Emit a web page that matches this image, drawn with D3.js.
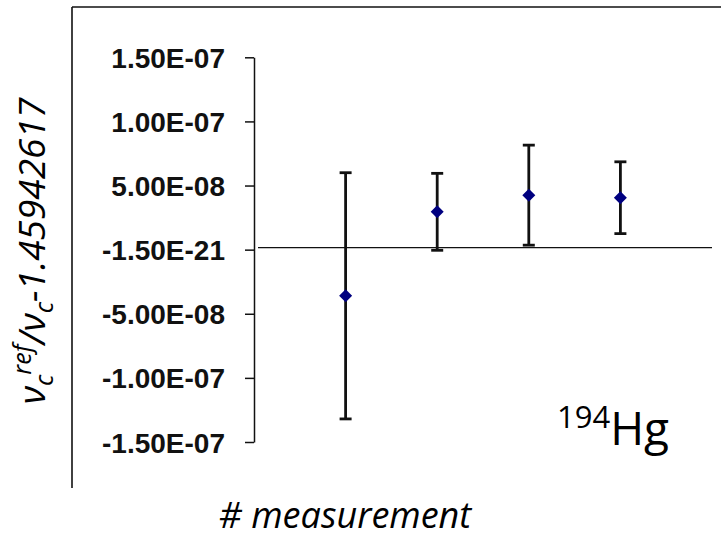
<!DOCTYPE html>
<html>
<head>
<meta charset="utf-8">
<script src="https://cdn.jsdelivr.net/npm/d3@7"></script>
<style>
  html, body { margin: 0; padding: 0; background: #fff; }
  svg { display: block; }
</style>
</head>
<body>
<script>
// Measurement index, frequency-ratio deviation and its 1-sigma uncertainty
const measurements = [1, 2, 3, 4];
const deviations = [-3.6e-8, 2.95e-8, 4.25e-8, 4.05e-8];
const uncertainties = [9.6e-8, 3.0e-8, 3.9e-8, 2.8e-8];
const tickValues = [1.5e-7, 1.0e-7, 5.0e-8, -1.5e-21, -5.0e-8, -1.0e-7, -1.5e-7];
const tickLabels = ["1.50E-07", "1.00E-07", "5.00E-08", "-1.50E-21", "-5.00E-08", "-1.00E-07", "-1.50E-07"];

const width = 721, height = 540;
const svg = d3.select("body").append("svg")
  .attr("width", width).attr("height", height);

const x = d3.scaleLinear().domain([0, 5]).range([254, 712]);
const y = d3.scaleLinear().domain([-1.5e-7, 1.5e-7]).range([442, 57.3]);

// outer frame (top and left edges)
svg.append("line").attr("x1", 72).attr("x2", width).attr("y1", 7).attr("y2", 7)
  .attr("stroke", "#111").attr("stroke-width", 1.6);
svg.append("line").attr("x1", 72).attr("x2", 72).attr("y1", 7).attr("y2", 488)
  .attr("stroke", "#111").attr("stroke-width", 1.6);

// y axis
const yAxis = d3.axisLeft(y)
  .tickValues(tickValues)
  .tickFormat((d, i) => tickLabels[i])
  .tickSize(9).tickSizeOuter(0).tickPadding(20);
const gy = svg.append("g").attr("transform", `translate(${x(0)},0)`).call(yAxis);
gy.select(".domain").attr("stroke", "#111").attr("stroke-width", 1.5);
gy.selectAll(".tick line").attr("stroke", "#111").attr("stroke-width", 1.5);
gy.selectAll(".tick text")
  .attr("fill", "#111")
  .style("font-family", "'Liberation Sans', Arial, sans-serif")
  .style("font-weight", "bold")
  .style("font-size", "28px")
  .attr("dy", "0.36em");

// zero line
svg.append("line")
  .attr("x1", x(0) + 4).attr("x2", x(5))
  .attr("y1", y(0) - 2).attr("y2", y(0) - 2)
  .attr("stroke", "#111").attr("stroke-width", 1.4);

const data = measurements.map((m, i) => ({ m, v: deviations[i], e: uncertainties[i] }));

// error bars
const bars = svg.append("g").attr("stroke", "#111").attr("stroke-width", 2.8);
bars.selectAll("line.stem").data(data).join("line").attr("class", "stem")
  .attr("x1", d => x(d.m)).attr("x2", d => x(d.m))
  .attr("y1", d => y(d.v + d.e)).attr("y2", d => y(d.v - d.e));
bars.selectAll("line.capt").data(data).join("line").attr("class", "capt")
  .attr("x1", d => x(d.m) - 6).attr("x2", d => x(d.m) + 6)
  .attr("y1", d => y(d.v + d.e)).attr("y2", d => y(d.v + d.e));
bars.selectAll("line.capb").data(data).join("line").attr("class", "capb")
  .attr("x1", d => x(d.m) - 6).attr("x2", d => x(d.m) + 6)
  .attr("y1", d => y(d.v - d.e)).attr("y2", d => y(d.v - d.e));

// diamond markers
svg.append("g").selectAll("path").data(data).join("path")
  .attr("d", d => {
    const cx = x(d.m), cy = y(d.v), r = 6.5;
    return `M${cx},${cy - r}L${cx + r},${cy}L${cx},${cy + r}L${cx - r},${cy}Z`;
  })
  .attr("fill", "#000080");

// y axis title
const yt = svg.append("text")
  .attr("transform", "translate(45,251) rotate(-90)")
  .attr("text-anchor", "middle")
  .style("font-family", "'Open Sans', sans-serif")
  .style("font-style", "italic")
  .style("font-size", "37px")
  .attr("fill", "#000");
yt.append("tspan").text("ν");
yt.append("tspan").attr("dy", 8).style("font-size", "25px").text("c");
yt.append("tspan").attr("dy", -22).style("font-size", "25px").text("ref");
yt.append("tspan").attr("dy", 14).text("/ν");
yt.append("tspan").attr("dy", 8).style("font-size", "25px").text("c");
yt.append("tspan").attr("dy", -8).text("-1.45942617");

// x axis title
svg.append("text")
  .attr("x", 345).attr("y", 528)
  .attr("text-anchor", "middle")
  .style("font-family", "'Open Sans', sans-serif")
  .style("font-style", "italic")
  .style("font-size", "36px")
  .attr("fill", "#000")
  .text("# measurement");

// isotope label
const iso = svg.append("text")
  .attr("x", 557).attr("y", 445)
  .style("font-family", "'Open Sans', sans-serif")
  .style("font-size", "46px")
  .attr("fill", "#000");
iso.append("tspan").style("font-size", "31px").attr("dy", -17).text("194");
iso.append("tspan").attr("dy", 17).text("Hg");
</script>
</body>
</html>
